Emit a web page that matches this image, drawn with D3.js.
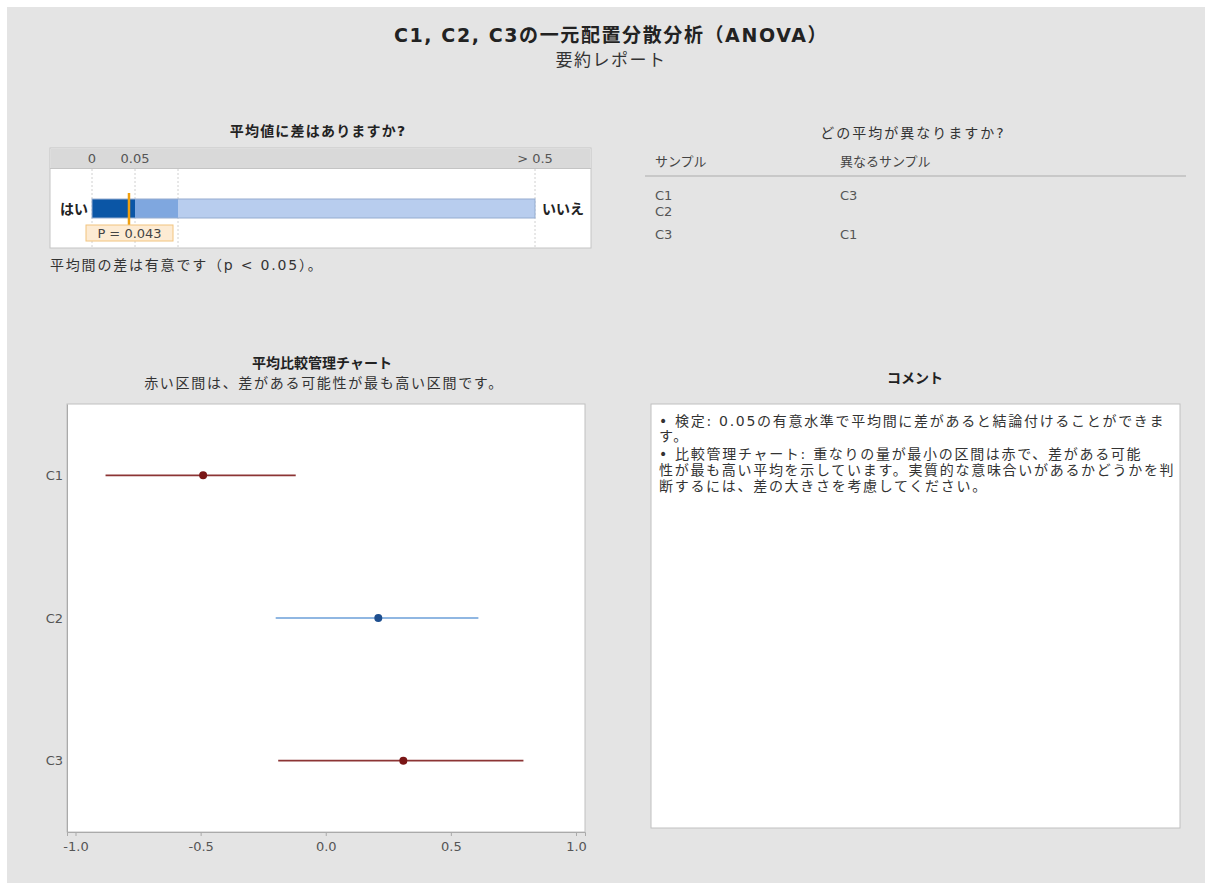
<!DOCTYPE html>
<html><head><meta charset="utf-8">
<script src="https://cdn.jsdelivr.net/npm/d3@7/dist/d3.min.js"></script>
<style>
body{margin:0;background:#fff;}
svg text{font-family:"DejaVu Sans","Noto Sans CJK JP",sans-serif;}
</style></head>
<body><svg id="c" width="1212" height="890"></svg>
<script>
// ---- data ----
const samples = ["C1", "C2", "C3"];
const means = [-0.49, 0.21, 0.31];
const lowerCI = [-0.88, -0.20, -0.19];
const upperCI = [-0.12, 0.61, 0.79];
const flagged = [true, false, true];
const xTicks = [-1.0, -0.5, 0.0, 0.5, 1.0];
const pTicks = [0, 0.05, 0.1, 0.5];
const pTickLabels = ["0", "0.05", "", "> 0.5"];
const pBands = [[0, 0.05], [0.05, 0.1], [0.1, 0.5]];
const pValue = 0.043;
const tableSamples = ["C1", "C2", "C3"];
const tableDiffers = ["C3", "", "C1"];
const commentLines = [
  "•  検定: 0.05の有意水準で平均間に差があると結論付けることができま",
  "す。",
  "• 比較管理チャート: 重なりの量が最小の区間は赤で、差がある可能",
  "性が最も高い平均を示しています。実質的な意味合いがあるかどうかを判",
  "断するには、差の大きさを考慮してください。"
];

const svg = d3.select("#c");
const txt = "#333";

// background panel
svg.append("rect").attr("x", 7).attr("y", 7).attr("width", 1198).attr("height", 876)
  .attr("fill", "#e4e4e4");

// titles
svg.append("text").attr("x", 611).attr("y", 42).attr("text-anchor", "middle")
  .attr("font-size", 19).attr("font-weight", "bold").attr("fill", "#222")
  .attr("letter-spacing", 1.6)
  .text("C1, C2, C3の一元配置分散分析（ANOVA）");
svg.append("text").attr("x", 611).attr("y", 66).attr("text-anchor", "middle")
  .attr("font-size", 17).attr("fill", txt).attr("letter-spacing", 1.5).text("要約レポート");

// ---- p-value panel ----
const pBox = {x: 50, y: 148, w: 541, h: 100};
svg.append("text").attr("x", 318).attr("y", 136).attr("text-anchor", "middle")
  .attr("font-size", 14).attr("font-weight", "bold").attr("fill", "#222")
  .attr("letter-spacing", 1.2).text("平均値に差はありますか?");
svg.append("rect").attr("x", pBox.x).attr("y", pBox.y).attr("width", pBox.w).attr("height", pBox.h)
  .attr("fill", "#fff").attr("stroke", "#c4c4c4");
svg.append("rect").attr("x", pBox.x + 0.5).attr("y", pBox.y + 0.5).attr("width", pBox.w - 1).attr("height", 20)
  .attr("fill", "#d9d9d9");
svg.append("line").attr("x1", pBox.x).attr("x2", pBox.x + pBox.w).attr("y1", pBox.y + 20.5).attr("y2", pBox.y + 20.5)
  .attr("stroke", "#c4c4c4");

const px = d3.scaleLinear().domain(pTicks).range([92, 135, 178, 535]);
pTicks.forEach((t, i) => {
  svg.append("line").attr("x1", px(t)).attr("x2", px(t)).attr("y1", pBox.y + 21).attr("y2", pBox.y + pBox.h)
    .attr("stroke", "#d0d0d0").attr("stroke-dasharray", "2,2");
  if (pTickLabels[i]) svg.append("text").attr("x", px(t)).attr("y", pBox.y + 15).attr("text-anchor", "middle")
    .attr("font-size", 13).attr("fill", "#555").text(pTickLabels[i]);
});
const bandColors = ["#0b56a6", "#7fa7df", "#b8cdee"];
pBands.forEach((b, i) => {
  svg.append("rect").attr("x", px(b[0])).attr("y", 199).attr("width", px(b[1]) - px(b[0])).attr("height", 19)
    .attr("fill", bandColors[i]);
});
svg.append("rect").attr("x", px(0)).attr("y", 199).attr("width", px(0.5) - px(0)).attr("height", 19)
  .attr("fill", "none").attr("stroke", "#95acd0").attr("stroke-width", 1);
svg.append("line").attr("x1", px(pValue)).attr("x2", px(pValue)).attr("y1", 193).attr("y2", 225)
  .attr("stroke", "#f0a010").attr("stroke-width", 2.5);
svg.append("rect").attr("x", 86).attr("y", 225).attr("width", 87).attr("height", 16)
  .attr("fill", "#fdebd3").attr("stroke", "#f2c47e");
svg.append("text").attr("x", 129.5).attr("y", 238).attr("text-anchor", "middle")
  .attr("font-size", 13).attr("fill", "#444").text("P = " + pValue.toFixed(3));
svg.append("text").attr("x", 88).attr("y", 214).attr("text-anchor", "end")
  .attr("font-size", 14).attr("font-weight", "bold").attr("fill", "#222").text("はい");
svg.append("text").attr("x", 542).attr("y", 214)
  .attr("font-size", 14).attr("font-weight", "bold").attr("fill", "#222").text("いいえ");
svg.append("text").attr("x", 50).attr("y", 270)
  .attr("font-size", 14).attr("fill", txt).attr("letter-spacing", 1.8).text("平均間の差は有意です（p < 0.05）。");

// ---- which means differ ----
svg.append("text").attr("x", 913).attr("y", 138).attr("text-anchor", "middle")
  .attr("font-size", 14).attr("fill", txt).attr("letter-spacing", 2).text("どの平均が異なりますか?");
svg.append("text").attr("x", 655).attr("y", 166).attr("font-size", 13).attr("fill", "#444").text("サンプル");
svg.append("text").attr("x", 840).attr("y", 166).attr("font-size", 13).attr("fill", "#444").text("異なるサンプル");
svg.append("line").attr("x1", 645).attr("x2", 1186).attr("y1", 176).attr("y2", 176)
  .attr("stroke", "#c8c8c8").attr("stroke-width", 2);
const rowY = [200, 216, 239];
tableSamples.forEach((s, i) => {
  svg.append("text").attr("x", 655).attr("y", rowY[i]).attr("font-size", 13).attr("fill", "#555").text(s);
  svg.append("text").attr("x", 840).attr("y", rowY[i]).attr("font-size", 13).attr("fill", "#555").text(tableDiffers[i]);
});

// ---- interval chart ----
svg.append("text").attr("x", 322).attr("y", 368).attr("text-anchor", "middle")
  .attr("font-size", 14).attr("font-weight", "bold").attr("fill", "#222").text("平均比較管理チャート");
svg.append("text").attr("x", 324).attr("y", 388).attr("text-anchor", "middle")
  .attr("font-size", 14).attr("fill", txt).attr("letter-spacing", 1.7).text("赤い区間は、差がある可能性が最も高い区間です。");

const plot = {x: 67, y: 404, w: 518, h: 428};
svg.append("rect").attr("x", plot.x).attr("y", plot.y).attr("width", plot.w).attr("height", plot.h)
  .attr("fill", "#fff").attr("stroke", "#c0c0c0");
const x = d3.scaleLinear().domain([-1.034, 1.036]).range([plot.x, plot.x + plot.w]);
const y = d3.scalePoint().domain(samples).range([plot.y, plot.y + plot.h]).padding(0.5);

const fmt = d3.format(".1f");
const xa = svg.append("g").attr("transform", `translate(0,${plot.y + plot.h})`)
  .call(d3.axisBottom(x).tickValues(xTicks).tickFormat(d => fmt(d).replace("−", "-")).tickSize(4).tickPadding(6));
xa.select(".domain").attr("stroke", "#aaa");
xa.selectAll(".tick line").attr("stroke", "#aaa");
xa.selectAll("text").attr("font-size", 13).attr("fill", "#555")
  .style("font-family", '"DejaVu Sans",sans-serif');

const ya = svg.append("g").attr("transform", `translate(${plot.x},0)`)
  .call(d3.axisLeft(y).tickSize(0).tickPadding(4));
ya.select(".domain").attr("stroke", "#aaa");
ya.selectAll("text").attr("font-size", 13).attr("fill", "#555")
  .style("font-family", '"DejaVu Sans",sans-serif');

samples.forEach((s, i) => {
  const lc = flagged[i] ? "#8c3434" : "#6b9fd8";
  const dc = flagged[i] ? "#7a1616" : "#1e4f8f";
  svg.append("line").attr("x1", x(lowerCI[i])).attr("x2", x(upperCI[i]))
    .attr("y1", y(s)).attr("y2", y(s)).attr("stroke", lc).attr("stroke-width", 1.6);
  svg.append("circle").attr("cx", x(means[i])).attr("cy", y(s)).attr("r", 4).attr("fill", dc);
});

// ---- comments ----
svg.append("text").attr("x", 915).attr("y", 383).attr("text-anchor", "middle")
  .attr("font-size", 14).attr("font-weight", "bold").attr("fill", "#222").text("コメント");
svg.append("rect").attr("x", 651).attr("y", 404).attr("width", 529).attr("height", 424)
  .attr("fill", "#fff").attr("stroke", "#c0c0c0");
const cY = [426, 441, 459, 475, 491];
commentLines.forEach((l, i) => {
  svg.append("text").attr("x", 659).attr("y", cY[i]).attr("font-size", 14).attr("fill", txt)
    .attr("letter-spacing", 1.7).text(l);
});
</script></body></html>
